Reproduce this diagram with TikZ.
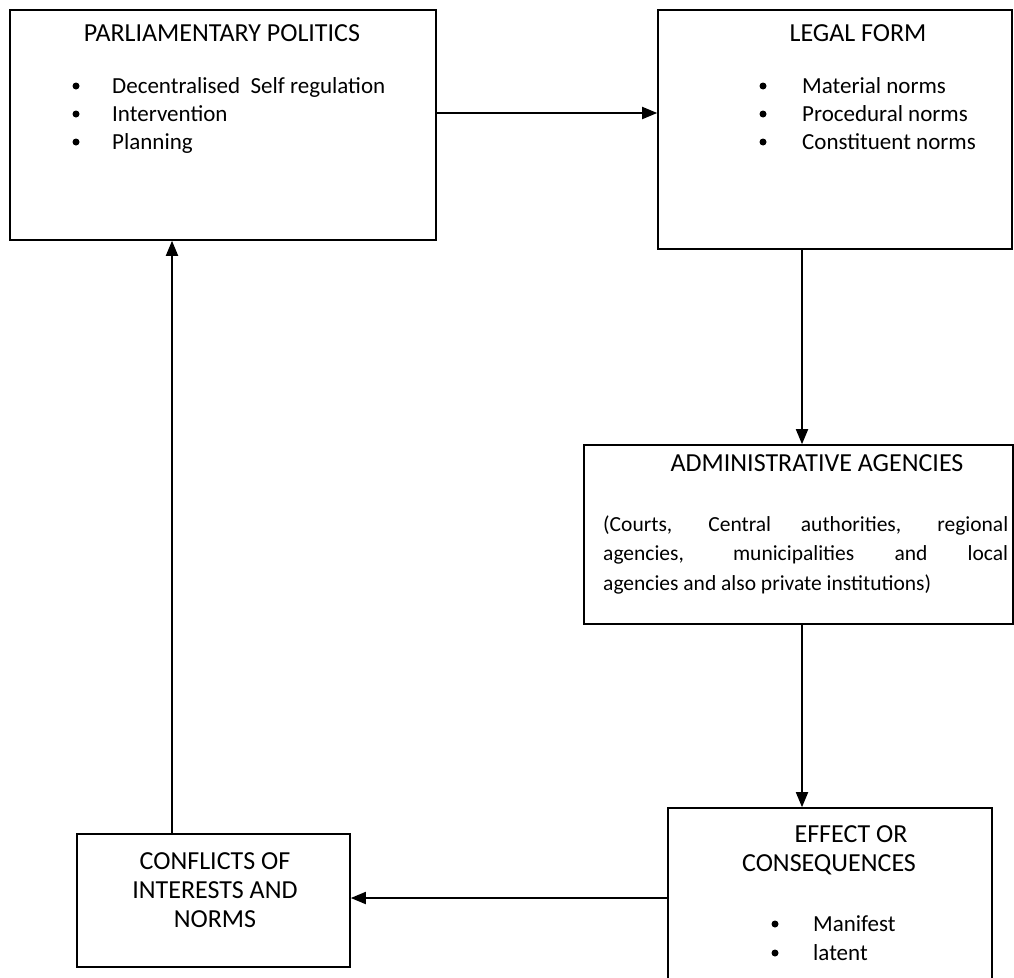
\documentclass[tikz,border=0pt]{standalone}
\usepackage{fontspec}
\setmainfont{Carlito}
\usetikzlibrary{arrows.meta,calc}
\begin{document}
\begin{tikzpicture}[x=1pt,y=-1pt,
  box/.style={draw,line width=1.6pt,inner sep=0pt},
  arr/.style={line width=1.8pt,-{Triangle[length=15pt,width=12pt]}},
  ttl/.style={font=\fontsize{26}{29}\selectfont,inner sep=0pt,anchor=base},
  itm/.style={font=\fontsize{23}{29}\selectfont,inner sep=0pt,anchor=base west},
  bul/.style={circle,fill,inner sep=0pt,minimum size=7pt}]
\useasboundingbox (0,0) rectangle (1014,977);
% boxes
\node[box,minimum width=426pt,minimum height=230pt] (b1) at (223,125) {};
\node[box,minimum width=354pt,minimum height=239pt] (b2) at (835,129.5) {};
\node[box,minimum width=429pt,minimum height=179pt] (b3) at (798.5,534.5) {};
\node[box,minimum width=324pt,minimum height=182pt] (b4) at (830,899) {};
\node[box,minimum width=273pt,minimum height=133pt] (b5) at (213.5,900.5) {};
% box 1 text
\node[ttl] (t1) at (222,41) {PARLIAMENTARY POLITICS};
\foreach \y/\t [count=\i] in {93/{Decentralised\ \ Self regulation},121/Intervention,149/Planning}{
  \node[bul] (p1b\i) at (76,\y-7) {};
  \node[itm] (p1i\i) at (112,\y) {\t};
}
% box 2 text
\node[ttl] (t2) at (858,41) {LEGAL FORM};
\foreach \y/\t [count=\i] in {93/Material norms,121/Procedural norms,149/Constituent norms}{
  \node[bul] (p2b\i) at (763,\y-7) {};
  \node[itm] (p2i\i) at (802,\y) {\t};
}
% box 3 text
\node[ttl] (t3) at (817,471) {ADMINISTRATIVE AGENCIES};
\node[itm,align=left,font=\fontsize{21.5}{29.5}\selectfont] (p3) at (603,590)
  {\makebox[405pt][s]{(Courts, Central authorities, regional}\\
   \makebox[405pt][s]{agencies, municipalities and local}\\
   agencies and also private institutions)};
% box 4 text
\node[ttl] (t4a) at (851,842) {EFFECT OR};
\node[ttl] (t4b) at (829,871) {CONSEQUENCES};
\foreach \y/\t [count=\i] in {931/Manifest,960/latent}{
  \node[bul] (p4b\i) at (775,\y-7) {};
  \node[itm] (p4i\i) at (813,\y) {\t};
}
% box 5 text
\node[ttl,align=center] (t5) at (215,927) {CONFLICTS OF\\INTERESTS AND\\NORMS};
% connectors
\coordinate (y12) at (0,113);
\coordinate (x23) at (802,0);
\coordinate (y45) at (0,898);
\coordinate (x51) at (172,0);
\draw[arr] (b1.east |- y12) -- (b2.west |- y12);
\draw[arr] (b2.south -| x23) -- (b3.north -| x23);
\draw[arr] (b3.south -| x23) -- (b4.north -| x23);
\draw[arr] (b4.west |- y45) -- (b5.east |- y45);
\draw[arr] (b5.north -| x51) -- (b1.south -| x51);
\end{tikzpicture}
\end{document}
